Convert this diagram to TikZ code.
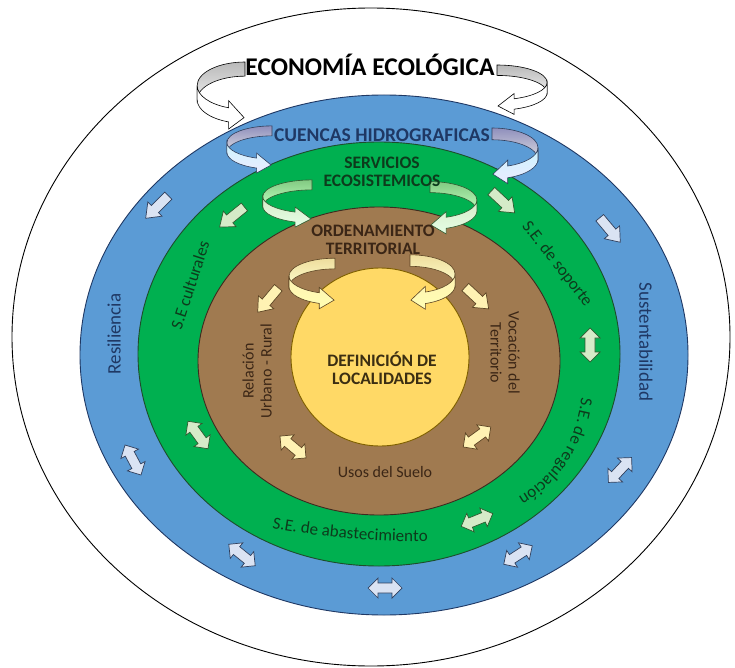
\documentclass[tikz,border=0pt]{standalone}
\usepackage{fontspec}
\setmainfont{Carlito}
\usetikzlibrary{decorations.text}

\definecolor{ringblue}{HTML}{5B9BD5}
\definecolor{ringgreen}{HTML}{00B050}
\definecolor{ringbrown}{HTML}{A07A50}
\definecolor{coreyellow}{HTML}{FFD966}
\definecolor{blueedge}{HTML}{1F3864}
\definecolor{greenedge}{HTML}{1E4D2B}
\definecolor{brownedge}{HTML}{3D2B1F}
\definecolor{yellowedge}{HTML}{7F6000}
\definecolor{navytext}{HTML}{1F3864}
\definecolor{setext}{HTML}{0D3B1C}
\definecolor{brtext}{HTML}{3B2616}
\definecolor{deftext}{HTML}{3B2E12}
\definecolor{bluepale}{HTML}{DAE3F3}
\definecolor{greenpale}{HTML}{D5EBC8}
\definecolor{yellowpale}{HTML}{FFF2B3}
\definecolor{navyline}{HTML}{2F3E5C}
\definecolor{greenline}{HTML}{2F5A2F}
\definecolor{brownline}{HTML}{5C4424}

\tikzset{
  ringline/.style={line width=0.9pt},
  ttl/.style={font=\bfseries\fontsize{17.5}{18}\selectfont, align=center, inner sep=0pt},
  lbl/.style={font=\fontsize{17}{18}\selectfont, inner sep=0pt},
  brlbl/.style={font=\fontsize{16}{18}\selectfont, text=brtext, align=center, inner sep=0pt},
  onearrow/.pic={\path[pic actions] (-16,-5) -- (3,-5) -- (3,-10) -- (16,0) -- (3,10) -- (3,5) -- (-16,5) -- cycle;},
  twoarrow/.pic={\path[pic actions] (-17,0) -- (-7,10) -- (-7,5) -- (7,5) -- (7,10) -- (17,0) -- (7,-10) -- (7,-5) -- (-7,-5) -- (-7,-10) -- cycle;},
  bluetip/.style={fill=bluepale, draw=navyline, line width=0.7pt},
  greentip/.style={fill=greenpale, draw=greenline, line width=0.7pt},
  yellowtip/.style={fill=yellowpale, draw=brownline, line width=0.7pt},
  % colour sets of the turning ribbons
  econturn/.style={rback/.style={top color=gray!55, bottom color=gray!15, draw=black, line width=0.6pt},
                   rfront/.style={fill=white, draw=black, line width=0.6pt}},
  cuenturn/.style={rback/.style={top color=blue!25!gray!70, bottom color=blue!10!gray!25, draw=navyline, line width=0.6pt},
                   rfront/.style={top color=blue!20!cyan!20, bottom color=blue!8, draw=navyline, line width=0.6pt}},
  servturn/.style={rback/.style={top color=green!40!gray!70, bottom color=green!25!white, draw=greenline, line width=0.6pt},
                   rfront/.style={top color=greenpale, bottom color=green!10!white, draw=greenline, line width=0.6pt}},
  ordeturn/.style={rback/.style={top color=yellow!40!brown!45, bottom color=yellow!20!white, draw=brownline, line width=0.6pt},
                   rfront/.style={top color=yellowpale, bottom color=yellow!30!white, draw=brownline, line width=0.6pt}},
}

% turning ribbon arrow: centre x, centre y, x scale, y scale, colour set
\newcommand{\turnarrow}[5]{%
  \begin{scope}[shift={(#1,#2)}, xscale=#3, yscale=#4, #5]
    \path[rback] (0,20) arc[start angle=90, end angle=180, x radius=46pt, y radius=20pt]
      -- (-46,-12) arc[start angle=180, end angle=90, x radius=46pt, y radius=20pt] -- cycle;
    \path[rfront] (-46,0) arc[start angle=180, end angle=250, x radius=46pt, y radius=20pt]
      -- (-15.73,-12.79) -- (-0.92,-27.13) -- (-15.73,-36.79) -- (-15.73,-30.79)
      arc[start angle=250, end angle=180, x radius=46pt, y radius=20pt] -- cycle;
  \end{scope}}

\begin{document}
\begin{tikzpicture}[x=1pt,y=1pt]
  \useasboundingbox (0,0) rectangle (735,-668);
  \fill[white] (0,0) rectangle (735,-668);

  % rings
  \draw[ringline, fill=white] (371,-337) ellipse[x radius=359pt, y radius=329pt];
  \draw[ringline, fill=ringblue, draw=blueedge] (384,-355) ellipse[x radius=304pt, y radius=260pt];
  \draw[ringline, fill=ringgreen, draw=greenedge] (379,-354) ellipse[x radius=241pt, y radius=212pt];
  \draw[ringline, fill=ringbrown, draw=brownedge] (379,-361) ellipse[x radius=181pt, y radius=154pt];
  \draw[ringline, fill=coreyellow, draw=yellowedge] (380,-357) circle[radius=89pt];

  % turning arrows beside the titles
  \turnarrow{245}{-85.6}{1.04}{1.18}{econturn}
  \turnarrow{497}{-82.4}{-1.09}{0.87}{econturn}
  \turnarrow{272}{-142.5}{0.98}{0.83}{cuenturn}
  \turnarrow{492}{-147.6}{-1.0}{0.98}{cuenturn}
  \turnarrow{312}{-196.5}{1.07}{0.83}{servturn}
  \turnarrow{430}{-200}{-1.02}{0.92}{servturn}
  \turnarrow{335}{-276}{1.0}{0.89}{ordeturn}
  \turnarrow{410}{-274}{-0.98}{0.96}{ordeturn}

  % small arrows in the rings
  \foreach \px/\py/\ang in {157/207/225, 610/230/-50}
    \pic[bluetip, rotate=\ang] at (\px,-\py) {onearrow};
  \foreach \px/\py/\ang in {133/460/-62, 620/470/47, 242/555/-39, 518/555/33, 385/588/0}
    \pic[bluetip, rotate=\ang] at (\px,-\py) {twoarrow};
  \foreach \px/\py/\ang in {232/217/219, 503/202/-43}
    \pic[greentip, rotate=\ang] at (\px,-\py) {onearrow};
  \foreach \px/\py/\ang in {198/435/-54, 590/345/90, 477/520/22}
    \pic[greentip, rotate=\ang] at (\px,-\py) {twoarrow};
  \foreach \px/\py/\ang in {268/300/230, 477/298/-43}
    \pic[yellowtip, rotate=\ang] at (\px,-\py) {onearrow};
  \foreach \px/\py/\ang in {293/447/-40, 477/437/36}
    \pic[yellowtip, rotate=\ang] at (\px,-\py) {twoarrow};

  % titles
  \node[ttl, font=\bfseries\fontsize{25.5}{26}\selectfont, anchor=base] (econ) at (370,-76) {ECONOMÍA ECOLÓGICA};
  \node[ttl, font=\bfseries\fontsize{19.5}{20}\selectfont, text=navytext, anchor=base] (cuenca) at (382,-142) {CUENCAS HIDROGRAFICAS};
  \node[ttl, text=setext] (servic) at (382,-172) {SERVICIOS\\ECOSISTEMICOS};
  \node[ttl, text=brtext] (ordter) at (373,-240) {ORDENAMIENTO\\TERRITORIAL};
  \node[ttl, text=deftext] (defloc) at (382,-368) {DEFINICIÓN DE\\LOCALIDADES};

  % ring labels
  \node[lbl, font=\fontsize{19}{20}\selectfont, text=navytext, rotate=90] (resil) at (114,-334) {Resiliencia};
  \node[lbl, font=\fontsize{19}{20}\selectfont, text=navytext, rotate=-90] (sustent) at (646,-342) {Sustentabilidad};
  \node[lbl, text=setext, rotate=72] (secult) at (190,-285) {S.E culturales};
  \node[lbl, text=setext, rotate=-52] (sesop) at (557,-264) {S.E. de soporte};
  \path[decorate, decoration={text along path, text color=setext, text align=center,
      text={|\fontsize{17}{17}\selectfont|S.E. de regulación}}]
    (582,-392) .. controls (578,-440) and (555,-478) .. (513,-500);
  \path[decorate, decoration={text along path, text color=setext, text align=center,
      text={|\fontsize{17}{17}\selectfont|S.E. de abastecimiento}}]
    (260,-526) .. controls (320,-538) and (390,-543) .. (440,-541);
  \node[brlbl, rotate=90] (relur) at (257,-371) {Relación\\Urbano - Rural};
  \node[brlbl, rotate=-90] (vocter) at (505,-353) {Vocación del\\Territorio};
  \node[brlbl, anchor=base] (usos) at (385,-477) {Usos del Suelo};
\end{tikzpicture}
\end{document}
